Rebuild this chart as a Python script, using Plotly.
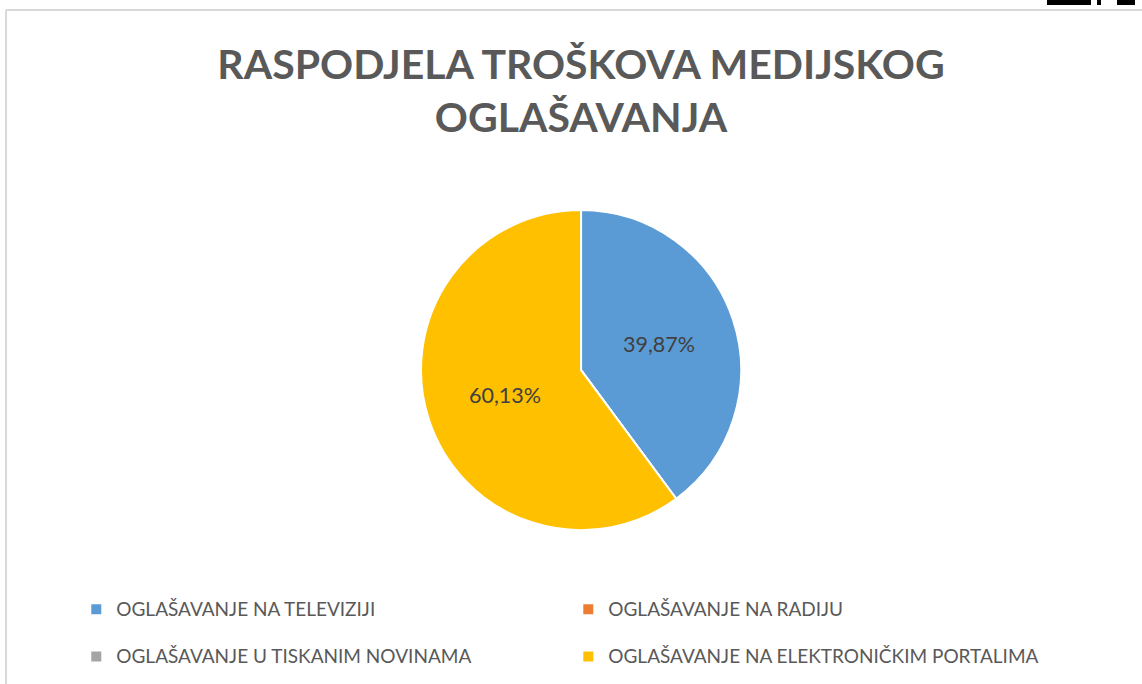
import plotly.graph_objects as go

labels = [
    "OGLAŠAVANJE NA TELEVIZIJI",
    "OGLAŠAVANJE NA RADIJU",
    "OGLAŠAVANJE U TISKANIM NOVINAMA",
    "OGLAŠAVANJE NA ELEKTRONIČKIM PORTALIMA",
]
shares = [39.87, 0.0, 0.0, 60.13]
colors = ["#5B9BD5", "#ED7D31", "#A5A5A5", "#FFC000"]
title_text = "RASPODJELA TROŠKOVA MEDIJSKOG<br>OGLAŠAVANJA"

# prazni udjeli ne dobivaju oznaku
text_tpl = ["%{percent:.2%}" if v > 0 else "" for v in shares]
# prazan drugi red u legendi -> veći razmak između redova legende
legend_names = [f"<span style='font-size:19px'>{l}</span><br> " for l in labels]

fig = go.Figure(
    go.Pie(
        labels=legend_names,
        values=shares,
        customdata=labels,
        sort=False,
        direction="clockwise",
        rotation=0,
        marker=dict(colors=colors, line=dict(color="white", width=2)),
        texttemplate=text_tpl,
        textposition="inside",
        insidetextfont=dict(family="Lato", size=21.5, color="#404040"),
        domain=dict(x=[0.0176, 1.0], y=[0.225, 0.693]),
        hovertemplate="%{customdata}<br>%{percent:.2%}<extra></extra>",
    )
)

# okvir grafikona (gornji i lijevi rub) i odrezani logo u kutu
frame = [
    dict(type="line", xref="paper", yref="paper", x0=0.0053, x1=1.0, y0=0.9854, y1=0.9854,
         line=dict(color="#D9D9D9", width=2)),
    dict(type="line", xref="paper", yref="paper", x0=0.0053, x1=0.0053, y0=0.0, y1=0.9854,
         line=dict(color="#D9D9D9", width=2)),
]
for a, b in [(1047, 1091), (1097, 1101), (1117, 1135)]:
    frame.append(dict(type="rect", xref="paper", yref="paper", x0=a / 1142, x1=b / 1142,
                      y0=1 - 5 / 684, y1=1.0, fillcolor="black", line=dict(width=0)))

fig.update_layout(
    width=1142,
    height=684,
    margin=dict(l=0, r=0, t=0, b=0, autoexpand=False),
    paper_bgcolor="white",
    plot_bgcolor="white",
    separators=",.",
    font=dict(family="Lato", color="#595959"),
    title=dict(
        text=title_text,
        x=0.5088,
        xanchor="center",
        y=0.885,
        yanchor="middle",
        yref="paper",
        font=dict(family="Lato", size=41, color="#595959", weight="bold"),
    ),
    showlegend=True,
    legend=dict(
        orientation="h",
        x=0.0668,
        xanchor="left",
        y=0.135,
        yanchor="top",
        valign="top",
        entrywidth=447,
        entrywidthmode="pixels",
        font=dict(family="Lato", size=17, color="#595959"),
        traceorder="normal",
    ),
    shapes=frame,
)

fig.write_html(
    "out.html",
    config={"displayModeBar": False},
    post_script="document.body.style.margin='0';",
)
